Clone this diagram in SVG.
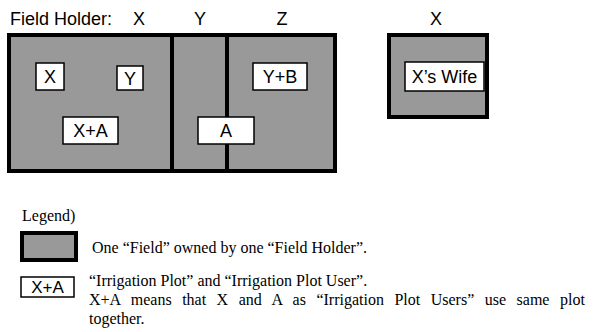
<svg xmlns="http://www.w3.org/2000/svg" width="593" height="332" viewBox="0 0 593 332">
<style>
.field{fill:#999999;stroke:#000;stroke-width:4}
.plot{fill:#fff;stroke:#000;stroke-width:1.5}
.sans{font-family:"Liberation Sans",Arial,sans-serif;font-size:18px;fill:#000}
.mid{text-anchor:middle}
.serif{font-family:"Liberation Serif","DejaVu Serif",serif;font-size:16px;fill:#000}
</style>
<rect width="593" height="332" fill="#fff"/>
<g id="headers">
<text class="sans" x="10" y="25">Field Holder:</text>
<text class="sans mid" x="139" y="25">X</text>
<text class="sans mid" x="200" y="25">Y</text>
<text class="sans mid" x="282" y="25">Z</text>
<text class="sans mid" x="436" y="25">X</text>
</g>
<g id="field-x"><rect class="field" x="9" y="35" width="163" height="136"/></g>
<g id="field-y"><rect class="field" x="172" y="35" width="55" height="136"/></g>
<g id="field-z"><rect class="field" x="227" y="35" width="108" height="136"/></g>
<g id="field-x2"><rect class="field" x="389" y="35" width="98" height="82"/></g>
<g id="connectors"></g>
<g id="plot-x"><rect class="plot" x="36" y="63" width="28" height="27"/><text class="sans mid" x="50" y="83">X</text></g>
<g id="plot-y"><rect class="plot" x="117" y="66" width="26" height="24"/><text class="sans mid" x="130" y="84.5">Y</text></g>
<g id="plot-yb"><rect class="plot" x="253" y="63" width="54" height="27"/><text class="sans mid" x="280" y="83">Y+B</text></g>
<g id="plot-xa"><rect class="plot" x="63" y="117" width="55" height="27"/><text class="sans mid" x="90.5" y="137">X+A</text></g>
<g id="plot-a"><rect class="plot" x="198" y="117" width="56" height="27"/><text class="sans mid" x="226" y="137">A</text></g>
<g id="plot-xwife"><rect class="plot" x="405" y="62" width="79" height="29"/><text class="sans mid" x="444.5" y="83">X’s Wife</text></g>
<g id="legend">
<text class="serif" x="22" y="221" font-family="'Liberation Serif', serif">Legend)</text>
<g id="legend-field"><rect class="field" x="22" y="233" width="54" height="27"/></g>
<text class="serif" x="92" y="253" font-family="'Liberation Serif', serif">One “Field” owned by one “Field Holder”.</text>
<g id="legend-plot"><rect class="plot" x="21" y="277" width="53" height="20"/><text class="sans mid" x="47.5" y="293" style="font-size:17px">X+A</text></g>
<text class="serif" x="89" y="286" font-family="'Liberation Serif', serif">“Irrigation Plot” and “Irrigation Plot User”.</text>
<text class="serif" x="89" y="305" font-family="'Liberation Serif', serif" word-spacing="6.5">X+A means that X and A as “Irrigation Plot Users” use same plot</text>
<text class="serif" x="89" y="324" font-family="'Liberation Serif', serif">together.</text>
</g>
</svg>
